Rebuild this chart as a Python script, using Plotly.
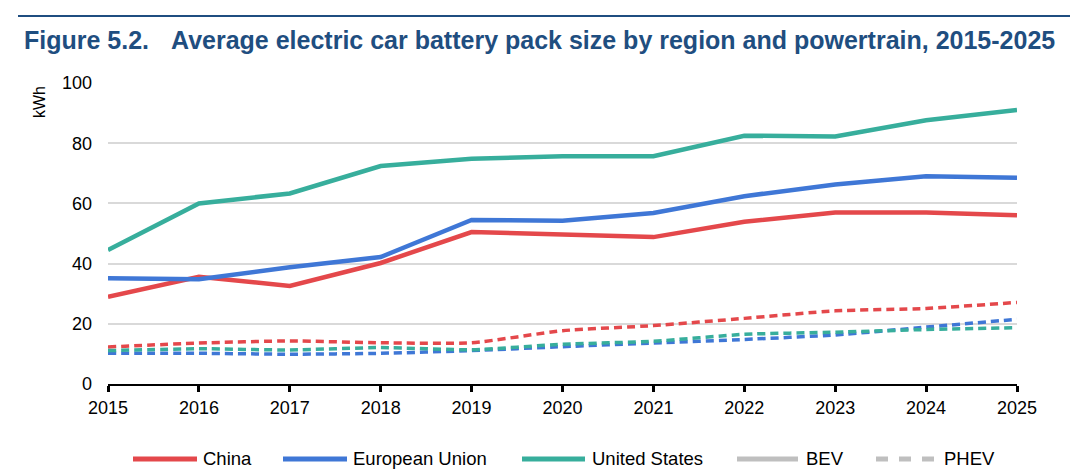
import plotly.graph_objects as go

years = [2015, 2016, 2017, 2018, 2019, 2020, 2021, 2022, 2023, 2024, 2025]

china_bev = [29.0, 35.6, 32.6, 40.2, 50.5, 49.8, 48.8, 53.9, 57.0, 57.0, 56.1]
eu_bev = [35.1, 34.8, 38.8, 42.2, 54.5, 54.2, 56.8, 62.4, 66.3, 69.0, 68.5]
us_bev = [44.5, 60.0, 63.3, 72.4, 74.8, 75.7, 75.7, 82.5, 82.2, 87.6, 91.0]

china_phev = [12.3, 13.6, 14.3, 13.7, 13.7, 17.7, 19.4, 21.8, 24.3, 25.1, 27.1]
eu_phev = [10.2, 10.2, 9.9, 10.2, 11.1, 12.4, 13.6, 14.8, 16.3, 18.9, 21.5]
us_phev = [11.1, 11.7, 11.3, 12.1, 11.4, 13.2, 14.2, 16.5, 17.2, 18.1, 18.7]

regions = ["China", "European Union", "United States"]
powertrains = ["BEV", "PHEV"]
colors = {"China": "#E4484B", "European Union": "#3F77D6", "United States": "#37AE9C",
          "BEV": "#BFBFBF", "PHEV": "#BFBFBF"}
bev = {"China": china_bev, "European Union": eu_bev, "United States": us_bev}
phev = {"China": china_phev, "European Union": eu_phev, "United States": us_phev}

title_num = "Figure 5.2."
title_txt = "Average electric car battery pack size by region and powertrain, 2015-2025"
y_title = "kWh"

# page body has an 8px margin: figure coords = screen - 8
PX0, PX1, PY0, PY1 = 108, 1017, 384, 83  # plot area in screen px


def px(sx):
    return (sx - PX0) / (PX1 - PX0)


def py(sy):
    return (PY0 - sy) / (PY0 - PY1)


fig = go.Figure()

for r in regions:
    fig.add_trace(go.Scatter(x=years, y=bev[r], mode="lines", name=r + " BEV",
                             line=dict(color=colors[r], width=4.5), showlegend=False))
for r in regions:
    fig.add_trace(go.Scatter(x=years, y=phev[r], mode="lines", name=r + " PHEV",
                             line=dict(color=colors[r], width=3.5, dash="8px,5px",
                                       shape="spline", smoothing=0.6),
                             showlegend=False))

# legend (manual, to match key length and spacing)
legend_names = regions + powertrains
legend_line = [(133, 197), (283, 347), (522, 585), (737, 798), (876, 936)]
legend_text_x = [202, 352, 591, 805, 943]
legend_y = 459

shapes = [dict(type="line", xref="paper", yref="paper",
               x0=px(18), x1=px(1078), y0=py(16), y1=py(16),
               line=dict(color="#1F4E80", width=2))]
annotations = [
    dict(text="<b>" + title_num + "</b>", xref="paper", yref="paper",
         x=px(22), y=py(40), xanchor="left", yanchor="middle",
         showarrow=False, font=dict(size=25, color="#1F4E80")),
    dict(text="<b>" + title_txt + "</b>", xref="paper", yref="paper",
         x=px(169), y=py(40), xanchor="left", yanchor="middle",
         showarrow=False, font=dict(size=25, color="#1F4E80")),
    dict(text=y_title, xref="paper", yref="paper", textangle=-90,
         x=px(40), y=py(102), xanchor="center", yanchor="middle",
         showarrow=False, font=dict(size=16, color="black")),
]

for name, (lx0, lx1), tx in zip(legend_names, legend_line, legend_text_x):
    dash = "12px,11px" if name == "PHEV" else "solid"
    shapes.append(dict(type="line", xref="paper", yref="paper",
                       x0=px(lx0), x1=px(lx1), y0=py(legend_y), y1=py(legend_y),
                       line=dict(color=colors[name], width=5, dash=dash)))
    annotations.append(dict(text=name, xref="paper", yref="paper",
                            x=px(tx - 1), y=py(legend_y - 1), xanchor="left", yanchor="middle",
                            showarrow=False, font=dict(size=18.5, color="black")))

fig.update_layout(
    width=1070, height=468,
    margin=dict(l=100, r=61, t=75, b=92, autoexpand=False),
    paper_bgcolor="white", plot_bgcolor="white",
    font=dict(family="Liberation Sans, Arial, sans-serif", size=18, color="black"),
    showlegend=False,
    xaxis=dict(range=[2015, 2025], tickmode="array", tickvals=years,
               ticktext=[str(y) for y in years], showgrid=False,
               showline=True, linecolor="black", linewidth=2,
               ticks="outside", ticklen=6, tickwidth=3, tickcolor="black",
               zeroline=False, fixedrange=True, tickfont=dict(size=18)),
    yaxis=dict(range=[0, 100], tickvals=[0, 20, 40, 60, 80, 100],
               showgrid=True, gridcolor="#D9D9D9", gridwidth=2,
               zeroline=False, showline=False, ticks="", ticklabelstandoff=15,
               fixedrange=True, tickfont=dict(size=18)),
    shapes=shapes,
    annotations=annotations,
)

fig.write_html("out.html")
